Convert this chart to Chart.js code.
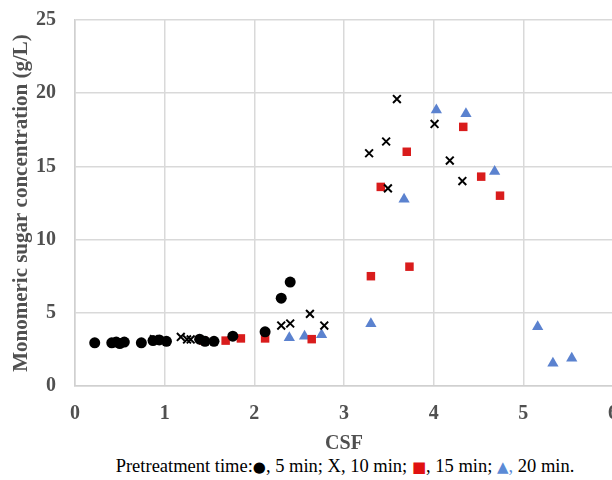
<!DOCTYPE html>
<html>
<head>
<meta charset="utf-8">
<script src="https://cdn.jsdelivr.net/npm/chart.js@4.4.1/dist/chart.umd.min.js"></script>
<style>
  html, body { margin: 0; padding: 0; background: #fff; overflow: hidden; }
  #wrap { position: relative; width: 612px; height: 480px; overflow: hidden; }
  #chart { position: absolute; left: 0; top: 0; }
  #note {
    position: absolute; left: 0; width: 690px; top: 456px; text-align: center;
    font-family: "Liberation Serif", "Times New Roman", serif; font-size: 18.5px; color: #000;
    white-space: nowrap;
  }
  .sym { font-family: "DejaVu Sans", sans-serif; font-size: 15px; }
  .red { color: #e01010; }
  .blue { color: #5b8ad6; }
</style>
</head>
<body>
<div id="wrap">
  <canvas id="chart" width="640" height="456"></canvas>
  <div id="note">Pretreatment time:<span class="sym">&#9679;</span>, 5 min; X, 10 min; <span class="sym red">&#9632;</span>, 15 min; <span class="blue"><span class="sym">&#9650;</span>,</span> 20 min.</div>
</div>
<script>
// pretreatment 5 min
const csf5 = [0.22, 0.41, 0.46, 0.50, 0.55, 0.74, 0.87, 0.94, 1.02, 1.39, 1.45, 1.55, 1.76, 2.12, 2.30, 2.40];
const sugar5 = [2.95, 2.95, 3.0, 2.9, 3.0, 2.95, 3.1, 3.15, 3.05, 3.2, 3.05, 3.05, 3.4, 3.7, 6.0, 7.1];

// pretreatment 10 min
const csf10 = [0.88, 1.18, 1.25, 1.29, 2.30, 2.40, 2.62, 2.78, 3.28, 3.47, 3.49, 3.59, 4.01, 4.18, 4.32];
const sugar10 = [3.2, 3.35, 3.18, 3.18, 4.13, 4.27, 4.93, 4.13, 15.9, 16.7, 13.5, 19.6, 17.9, 15.4, 14.0];

// pretreatment 15 min
const csf15 = [1.43, 1.68, 1.85, 2.12, 2.64, 3.30, 3.41, 3.70, 3.73, 4.33, 4.53, 4.74];
const sugar15 = [3.1, 3.1, 3.25, 3.25, 3.2, 7.5, 13.6, 16.0, 8.15, 17.7, 14.3, 13.0];

// pretreatment 20 min
const csf20 = [2.39, 2.56, 2.75, 3.30, 3.67, 4.03, 4.36, 4.68, 5.16, 5.33, 5.54];
const sugar20 = [3.3, 3.4, 3.5, 4.25, 12.75, 18.85, 18.6, 14.65, 4.05, 1.55, 1.9];

const xTicks = [0, 1, 2, 3, 4, 5, 6];
const yTicks = [0, 5, 10, 15, 20, 25];

function pairs(xs, ys) {
  return xs.map((x, i) => ({ x: x, y: ys[i] }));
}

const grey = '#505050';
const serif = '"Liberation Serif", "Times New Roman", serif';
const tickFont = { family: serif, size: 20, weight: 'bold' };
const titleFont = { family: serif, size: 21, weight: 'bold' };

new Chart(document.getElementById('chart'), {
  type: 'scatter',
  data: {
    datasets: [
      { label: '5 min', data: pairs(csf5, sugar5), pointStyle: 'circle', pointRadius: 5.5,
        backgroundColor: '#000', borderColor: '#000', borderWidth: 0 },
      { label: '10 min', data: pairs(csf10, sugar10), pointStyle: 'crossRot', pointRadius: 5.5,
        backgroundColor: '#000', borderColor: '#000', borderWidth: 2 },
      { label: '15 min', data: pairs(csf15, sugar15), pointStyle: 'rect', pointRadius: 6,
        backgroundColor: '#d91c1c', borderColor: '#d91c1c', borderWidth: 0 },
      { label: '20 min', data: pairs(csf20, sugar20), pointStyle: 'triangle', pointRadius: 6.5,
        backgroundColor: '#5b82cf', borderColor: '#5b82cf', borderWidth: 0 }
    ]
  },
  options: {
    responsive: false,
    animation: false,
    layout: { padding: { left: 0, right: 27, top: 20, bottom: 0 } },
    plugins: {
      legend: { display: false },
      tooltip: { enabled: false }
    },
    scales: {
      x: {
        type: 'linear',
        min: 0, max: 6,
        afterBuildTicks: (scale) => { scale.ticks = xTicks.map(v => ({ value: v })); },
        afterFit: (scale) => { scale.height = 70; scale.paddingLeft = 0; scale.paddingRight = 0; },
        grid: { color: '#d9d9d9', lineWidth: 1.5, drawTicks: false },
        border: { color: '#d0d0d0', width: 1.5 },
        ticks: { color: grey, font: tickFont, padding: 16 },
        title: { display: true, text: 'CSF', color: grey, font: tickFont, padding: { top: 0, bottom: 0 } }
      },
      y: {
        min: 0, max: 25,
        afterBuildTicks: (scale) => { scale.ticks = yTicks.map(v => ({ value: v })); },
        // fixed axis width; tick labels may spill into the top margin
        afterFit: (scale) => { scale.width = 75; scale.paddingTop = 0; scale.paddingBottom = 0; },
        grid: { color: '#d9d9d9', lineWidth: 1.5, drawTicks: false },
        border: { color: '#d0d0d0', width: 1.5 },
        ticks: { color: grey, font: tickFont, padding: 19 },
        title: {
          display: true, text: 'Monomeric sugar concentration (g/L)', color: grey, font: titleFont,
          padding: { top: 9, bottom: 0 }
        }
      }
    }
  }
});
</script>
</body>
</html>
